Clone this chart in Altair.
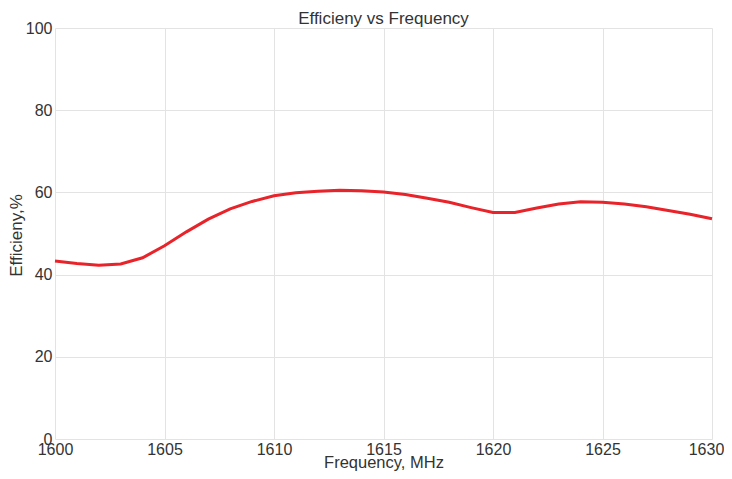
import altair as alt
import pandas as pd

freq = list(range(1600, 1631))
eff = [43.3, 42.7, 42.3, 42.6, 44.1, 47.0, 50.4, 53.5, 56.0, 57.8, 59.2,
       59.9, 60.3, 60.5, 60.4, 60.1, 59.5, 58.6, 57.6, 56.3, 55.1,
       55.1, 56.2, 57.2, 57.7, 57.6, 57.2, 56.5, 55.6, 54.7, 53.6]
title_text = ["Efficieny vs Frequency"]

df = pd.DataFrame({"freq": freq, "eff": eff})
tdf = pd.DataFrame({"t": title_text})

FONT = "Liberation Sans, Arial, sans-serif"
TXT = "#333333"

line = alt.Chart(df).mark_line(color="#e8232a", strokeWidth=3).encode(
    x=alt.X("freq:Q",
            scale=alt.Scale(domain=[1600, 1630], nice=False, zero=False),
            axis=alt.Axis(title="Frequency, MHz", values=[1600, 1605, 1610, 1615, 1620, 1625, 1630],
                          format="d", ticks=False, domain=False, labelPadding=2,
                          labelOverlap=False, labelFlush=False,
                          labelOffset=alt.condition("datum.value == 1630", alt.value(-6), alt.value(0)),
                          titleX=328.5, titleY=23, titleBaseline="middle", titleFontSize=16.5)),
    y=alt.Y("eff:Q",
            scale=alt.Scale(domain=[0, 100], nice=False),
            axis=alt.Axis(title="Efficieny,%", values=[0, 20, 40, 60, 80, 100],
                          ticks=False, domain=False, labelPadding=3,
                          labelOverlap=False, labelFlush=False,
                          titleX=-39, titleY=207, titleAngle=270,
                          titleBaseline="middle", titleAlign="center")),
)

title = alt.Chart(tdf).mark_text(font=FONT, fontSize=17, color=TXT, align="center",
                                 baseline="alphabetic").encode(
    text="t:N", x=alt.value(328.5), y=alt.value(-4))

chart = alt.layer(line, title).properties(
    width=657, height=411,
    autosize=alt.AutoSizeParams(type="none"),
    padding={"left": 47, "top": 20, "right": 12, "bottom": 32},
).configure_axis(
    labelFont=FONT, titleFont=FONT, labelFontSize=16, titleFontSize=17,
    labelColor=TXT, titleColor=TXT, titleFontWeight="normal",
    gridColor="#e3e3e3", gridWidth=1,
).configure_view(stroke=None)

chart.save("out.html", embed_options={"renderer": "svg", "actions": False})
